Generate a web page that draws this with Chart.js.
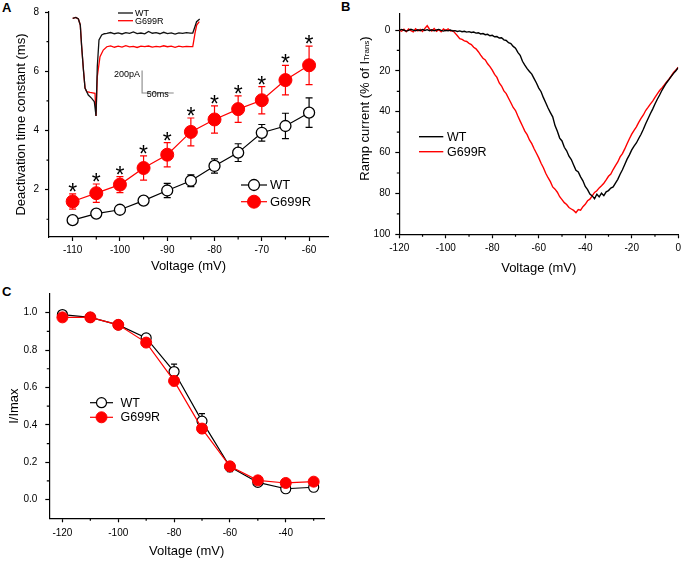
<!DOCTYPE html>
<html>
<head>
<meta charset="utf-8">
<script src="https://cdn.jsdelivr.net/npm/chart.js@4.4.0/dist/chart.umd.min.js"></script>
<style>
  body { margin: 0; background: #fff; width: 685px; height: 563px; position: relative; overflow: hidden; font-family: "Liberation Sans", Arial, sans-serif; }
  canvas { position: absolute; }
  .panel { position: absolute; font-weight: bold; font-size: 13px; line-height: 13px; }
</style>
</head>
<body>
<div class="panel" style="left:2px;top:1px">A</div>
<div class="panel" style="left:341px;top:0px">B</div>
<div class="panel" style="left:2px;top:285px">C</div>
<canvas id="chartA" width="340" height="280" style="left:0;top:0"></canvas>
<canvas id="inset" width="160" height="120" style="left:60px;top:0"></canvas>
<canvas id="chartB" width="345" height="280" style="left:340px;top:0"></canvas>
<canvas id="chartC" width="340" height="283" style="left:0;top:280px"></canvas>
<script>
// ---- Panel A: deactivation time constant ----
const voltA = [-110, -105, -100, -95, -90, -85, -80, -75, -70, -65, -60];
const tauWT = [0.97, 1.19, 1.32, 1.63, 1.97, 2.30, 2.80, 3.25, 3.92, 4.15, 4.60];
const tauWTErr = [0.06, 0.07, 0.12, 0.08, 0.24, 0.20, 0.24, 0.30, 0.28, 0.43, 0.50];
const tauMut = [1.60, 1.88, 2.17, 2.73, 3.18, 3.95, 4.37, 4.72, 5.02, 5.70, 6.20];
const tauMutErr = [0.26, 0.31, 0.27, 0.41, 0.41, 0.47, 0.46, 0.45, 0.46, 0.50, 0.65];

// inset current traces (ms, pA)
const traceWTTime = [0, 5, 9, 12, 14, 17, 19.5, 24.7, 30.1, 34.2, 36.9, 38.9, 41.6, 45.9, 50, 54, 60, 66, 72, 78, 84, 90, 96, 102, 108, 114, 120, 126, 132, 138, 144, 150, 156, 162, 168, 174, 180, 186, 190, 193, 196, 201];
const traceWTCur = [0, 8, -7, -65, -259, -502, -678, -745, -777, -810, -949, -470, -211, -162, -150, -146, -138, -150, -141, -152, -139, -147, -133, -149, -143, -151, -127, -145, -140, -150, -136, -148, -142, -153, -141, -146, -139, -144, -143, -90, -33, -7];
const traceMutTime = [0, 5, 9, 12, 14, 17, 19.5, 22.2, 27.4, 35.3, 36.9, 38.9, 43.2, 48.4, 54, 60, 66, 72, 78, 84, 90, 96, 102, 108, 114, 120, 126, 132, 138, 144, 150, 156, 162, 168, 174, 180, 186, 190, 193.5, 196.2, 200.3];
const traceMutCur = [0, 8, -7, -65, -259, -502, -678, -713, -720, -728, -949, -567, -373, -308, -276, -268, -281, -271, -279, -266, -277, -272, -283, -270, -275, -269, -280, -273, -278, -267, -276, -271, -282, -270, -277, -273, -275, -274, -146, -65, -33];
const scaleBarTime = [109.8, 109.8, 159.8];
const scaleBarCur = [-508, -725, -725];

// ---- Panel B: ramp current, 1 mV steps ----
const rampVolt = [-120, -119, -118, -117, -116, -115, -114, -113, -112, -111, -110, -109, -108, -107, -106, -105, -104, -103, -102, -101,
  -100, -99, -98, -97, -96, -95, -94, -93, -92, -91, -90, -89, -88, -87, -86, -85, -84, -83, -82, -81,
  -80, -79, -78, -77, -76, -75, -74, -73, -72, -71, -70, -69, -68, -67, -66, -65, -64, -63, -62, -61,
  -60, -59, -58, -57, -56, -55, -54, -53, -52, -51, -50, -49, -48, -47, -46, -45, -44, -43, -42, -41,
  -40, -39, -38, -37, -36, -35, -34, -33, -32, -31, -30, -29, -28, -27, -26, -25, -24, -23, -22, -21,
  -20, -19, -18, -17, -16, -15, -14, -13, -12, -11, -10, -9, -8, -7, -6, -5, -4, -3, -2, -1, 0];
const rampWT = [0.2, -0.3, 0.1, 0.5, 0.2, -0.4, 0.0, 0.4, -0.1, 0.3, -0.3, 0.2, -0.2, 0.3, -0.1, 0.4, 0.0, -0.3, 0.2, 0.5,
  0.1, 0.4, 0.0, 0.5, 0.3, 0.7, 0.4, 0.8, 0.6, 1.0, 0.8, 1.2, 1.0, 1.5, 1.3, 1.9, 1.7, 2.3, 2.1, 2.8,
  2.6, 3.3, 3.2, 3.9, 3.8, 4.8, 5.1, 6.2, 6.6, 8.0, 8.9, 10.9, 12.4, 15.3, 17.2, 18.9, 20.3, 21.6, 23.8, 25.9,
  28.4, 30.2, 33.1, 35.6, 38.2, 40.4, 42.5, 46.8, 49.6, 52.9, 54.3, 57.4, 59.1, 61.8, 63.4, 66.1, 68.7, 69.5, 71.9, 73.8,
  76.6, 78.1, 80.3, 81.2, 82.6, 80.4, 81.7, 79.9, 81.1, 79.2, 78.6, 77.4, 76.8, 74.9, 73.1, 70.6, 68.4, 65.8, 63.2, 61.1,
  58.7, 56.8, 55.3, 53.1, 51.0, 48.6, 45.9, 43.4, 41.0, 38.7, 36.2, 33.9, 31.8, 29.5, 27.6, 25.8, 24.3, 22.7, 21.2, 19.9, 18.4];
const rampMut = [0.0, 0.6, -0.4, 0.8, -0.5, 0.3, 0.9, -0.6, 0.4, -0.3, 0.7, -0.8, -2.1, -0.4, 0.5, -0.7, 0.6, -0.2, 0.8, -0.5,
  0.3, -0.6, 0.5, 0.2, 1.5, 2.8, 4.2, 4.6, 5.3, 5.6, 6.5, 7.1, 8.4, 9.2, 10.6, 12.3, 13.8, 14.6, 16.5, 17.9,
  19.6, 21.7, 23.2, 25.9, 27.4, 29.8, 31.1, 33.4, 35.6, 37.9, 39.4, 42.1, 44.6, 47.0, 49.5, 51.2, 53.8, 55.6, 58.1, 60.3,
  62.6, 65.2, 67.4, 70.1, 72.3, 74.2, 76.8, 77.9, 79.4, 81.6, 83.0, 84.5, 85.4, 86.9, 87.6, 88.3, 89.4, 87.9, 88.2, 86.5,
  85.3, 83.6, 82.8, 81.2, 79.5, 78.7, 77.3, 76.2, 75.0, 73.4, 71.6, 70.5, 68.3, 66.4, 64.6, 62.1, 60.5, 58.2, 55.7, 53.2,
  51.0, 49.1, 47.4, 45.2, 43.3, 41.6, 39.4, 37.9, 36.3, 34.8, 33.0, 31.2, 29.6, 28.3, 26.9, 25.4, 24.1, 22.5, 20.8, 19.6, 18.2];

// ---- Panel C: steady-state availability ----
const voltC = [-120, -110, -100, -90, -80, -70, -60, -50, -40, -30];
const availWT = [0.99, 0.975, 0.935, 0.865, 0.685, 0.42, 0.175, 0.092, 0.058, 0.066];
const availWTErr = [0.015, 0.01, 0.01, 0.015, 0.04, 0.04, 0.025, 0.01, 0.01, 0.01];
const availMut = [0.975, 0.975, 0.935, 0.84, 0.635, 0.38, 0.178, 0.103, 0.089, 0.096];
const availMutErr = [0.01, 0.01, 0.01, 0.015, 0.025, 0.025, 0.02, 0.01, 0.01, 0.01];

// tick values
const ticksAX = [-110, -100, -90, -80, -70, -60];
const minorAX = [-105, -95, -85, -75, -65];
const ticksAY = [2, 4, 6, 8];
const minorAY = [1, 3, 5, 7];
const ticksBX = [-120, -100, -80, -60, -40, -20, 0];
const minorBX = [-110, -90, -70, -50, -30, -10];
const ticksBY = [0, 20, 40, 60, 80, 100];
const minorBY = [10, 30, 50, 70, 90];
const ticksCX = [-120, -100, -80, -60, -40];
const minorCX = [-110, -90, -70, -50, -30];
const ticksCY = [0, 0.2, 0.4, 0.6, 0.8, 1.0];
const minorCY = [0.1, 0.3, 0.5, 0.7, 0.9];

const FONT = '"Liberation Sans", Arial, Helvetica, sans-serif';
Chart.defaults.font.family = FONT;
Chart.defaults.color = '#000';
const RED = '#ff0000';
const BLACK = '#000000';

const pts = (xs, ys) => xs.map((x, i) => ({x: x, y: ys[i]}));

function axis(o) {
  return {
    type: 'linear',
    min: o.min,
    max: o.max,
    reverse: !!o.reverse,
    border: {color: '#000', width: 1.2},
    grid: {drawOnChartArea: false, color: '#000', tickLength: 4, tickWidth: 1.2},
    ticks: {font: {size: 10}, color: '#000', padding: o.pad, callback: o.fmt || (v => v)},
    afterBuildTicks: s => { s.ticks = o.ticks.map(v => ({value: v})); },
    afterFit: s => { if (s.isHorizontal()) s.height = o.size; else s.width = o.size; },
    title: {display: !!o.title, text: o.title, font: {size: 13}, color: '#000', padding: o.tpad || 0}
  };
}

// small unlabeled ticks between the labelled ones
function minorTicks(xs, ys) {
  return {
    id: 'minorTicks',
    afterDraw(chart) {
      const {ctx, chartArea} = chart;
      const {x, y} = chart.scales;
      ctx.save();
      ctx.strokeStyle = '#000';
      ctx.lineWidth = 1.2;
      ctx.beginPath();
      xs.forEach(v => {
        const px = x.getPixelForValue(v);
        ctx.moveTo(px, chartArea.bottom);
        ctx.lineTo(px, chartArea.bottom + 2.5);
      });
      ys.forEach(v => {
        const py = y.getPixelForValue(v);
        ctx.moveTo(chartArea.left - 2.5, py);
        ctx.lineTo(chartArea.left, py);
      });
      ctx.stroke();
      ctx.restore();
    }
  };
}

// symmetric error bars, drawn under the markers
function errorBars(cap) {
  return {
    id: 'errorBars',
    beforeDatasetsDraw(chart) {
      const ctx = chart.ctx;
      const {x, y} = chart.scales;
      chart.data.datasets.forEach(ds => {
        if (!ds.errors) return;
        ctx.save();
        ctx.strokeStyle = ds.borderColor;
        ctx.lineWidth = 1.2;
        ctx.beginPath();
        ds.data.forEach((p, i) => {
          const e = ds.errors[i];
          const px = x.getPixelForValue(p.x);
          const top = y.getPixelForValue(p.y + e);
          const bot = y.getPixelForValue(p.y - e);
          ctx.moveTo(px, top); ctx.lineTo(px, bot);
          ctx.moveTo(px - cap, top); ctx.lineTo(px + cap, top);
          ctx.moveTo(px - cap, bot); ctx.lineTo(px + cap, bot);
        });
        ctx.stroke();
        ctx.restore();
      });
    }
  };
}

// significance stars over the mutant error bars
const stars = {
  id: 'stars',
  afterDatasetsDraw(chart) {
    const ctx = chart.ctx;
    const {x, y} = chart.scales;
    chart.data.datasets.forEach(ds => {
      if (!ds.stars) return;
      ctx.save();
      ctx.fillStyle = '#000';
      ctx.font = '23px ' + FONT;
      ctx.textAlign = 'center';
      ctx.textBaseline = 'alphabetic';
      ds.data.forEach((p, i) => {
        const px = x.getPixelForValue(p.x);
        const top = y.getPixelForValue(p.y + ds.errors[i]);
        ctx.fillText('*', px, top + 6);
      });
      ctx.restore();
    });
  }
};

// hand placed legend, style taken from the datasets
function figLegend(items, size) {
  return {
    id: 'figLegend',
    afterDraw(chart) {
      const ctx = chart.ctx;
      items.forEach(it => {
        const ds = chart.data.datasets[it.ds];
        ctx.save();
        ctx.strokeStyle = ds.borderColor;
        ctx.lineWidth = ds.borderWidth;
        ctx.beginPath();
        ctx.moveTo(it.x1, it.y);
        ctx.lineTo(it.x2, it.y);
        ctx.stroke();
        if (ds.pointRadius > 0) {
          ctx.fillStyle = ds.pointBackgroundColor;
          ctx.strokeStyle = ds.pointBorderColor;
          ctx.lineWidth = ds.pointBorderWidth;
          Chart.helpers.drawPoint(ctx, {pointStyle: 'circle', radius: ds.pointRadius, borderWidth: ds.pointBorderWidth, rotation: 0}, (it.x1 + it.x2) / 2, it.y);
        }
        ctx.fillStyle = '#000';
        ctx.font = size + 'px ' + FONT;
        ctx.textBaseline = 'middle';
        ctx.textAlign = 'left';
        ctx.fillText(ds.label, it.tx, it.y + 0.5);
        ctx.restore();
      });
    }
  };
}

function figText(items, size) {
  return {
    id: 'figText',
    afterDraw(chart) {
      const ctx = chart.ctx;
      ctx.save();
      ctx.fillStyle = '#000';
      ctx.font = size + 'px ' + FONT;
      ctx.textBaseline = 'middle';
      items.forEach(it => {
        ctx.textAlign = it.align || 'left';
        ctx.fillText(it.text, it.x, it.y);
      });
      ctx.restore();
    }
  };
}

// y title of panel B, with subscript
const rampTitle = {
  id: 'rampTitle',
  afterDraw(chart) {
    const ctx = chart.ctx;
    const main = '13px ' + FONT, sub = '8px ' + FONT;
    const parts = [['Ramp current (% of I', main, 0], ['Trans', sub, 2], [')', main, 0]];
    let w = 0;
    parts.forEach(p => { ctx.font = p[1]; w += ctx.measureText(p[0]).width; });
    ctx.save();
    ctx.translate(25, 108.5);
    ctx.rotate(-Math.PI / 2);
    ctx.fillStyle = '#000';
    ctx.textBaseline = 'middle';
    ctx.textAlign = 'left';
    let cx = -w / 2;
    parts.forEach(p => {
      ctx.font = p[1];
      ctx.fillText(p[0], cx, p[2]);
      cx += ctx.measureText(p[0]).width;
    });
    ctx.restore();
  }
};

// Panel A
new Chart(document.getElementById('chartA'), {
  type: 'line',
  data: {
    datasets: [
      {
        label: 'WT',
        data: pts(voltA, tauWT),
        errors: tauWTErr,
        borderColor: BLACK,
        borderWidth: 1.2,
        pointRadius: 5.5,
        pointBackgroundColor: '#fff',
        pointBorderColor: BLACK,
        pointBorderWidth: 1.3,
        tension: 0
      },
      {
        label: 'G699R',
        data: pts(voltA, tauMut),
        errors: tauMutErr,
        stars: true,
        borderColor: RED,
        borderWidth: 1.2,
        pointRadius: 6.5,
        pointBackgroundColor: RED,
        pointBorderColor: RED,
        pointBorderWidth: 1,
        tension: 0
      }
    ]
  },
  options: {
    responsive: false,
    animation: false,
    events: [],
    layout: {padding: {left: 0, top: 9, right: 12, bottom: 0}},
    scales: {
      x: axis({min: -115, max: -56, ticks: ticksAX, size: 43, pad: 3, title: 'Voltage (mV)', tpad: {top: 0, bottom: 6}}),
      y: axis({min: 0.4, max: 8, ticks: ticksAY, size: 49, pad: 6, title: 'Deactivation time constant (ms)', tpad: {top: 14, bottom: 0}})
    },
    plugins: {legend: {display: false}, tooltip: {enabled: false}}
  },
  plugins: [errorBars(3.5), stars, minorTicks(minorAX, minorAY), figLegend([
    {ds: 0, x1: 241, x2: 267, y: 185, tx: 270},
    {ds: 1, x1: 241, x2: 267, y: 201.7, tx: 270}
  ], 13)]
});

// Inset traces
new Chart(document.getElementById('inset'), {
  type: 'line',
  data: {
    datasets: [
      {label: 'WT', data: pts(traceWTTime, traceWTCur), borderColor: '#111', borderWidth: 1.3, pointRadius: 0, tension: 0},
      {label: 'G699R', data: pts(traceMutTime, traceMutCur), borderColor: RED, borderWidth: 1.3, pointRadius: 0, tension: 0},
      {label: 'scale', data: pts(scaleBarTime, scaleBarCur), borderColor: '#888', borderWidth: 1.1, pointRadius: 0, tension: 0}
    ]
  },
  options: {
    responsive: false,
    animation: false,
    events: [],
    layout: {padding: 0},
    scales: {
      x: {type: 'linear', display: false, min: -20.1, max: 233.1},
      y: {type: 'linear', display: false, min: -987.5, max: 177.7}
    },
    plugins: {legend: {display: false}, tooltip: {enabled: false}}
  },
  plugins: [figLegend([
    {ds: 0, x1: 58, x2: 73, y: 13, tx: 75},
    {ds: 1, x1: 58, x2: 73, y: 20.7, tx: 75}
  ], 9), figText([
    {text: '200pA', x: 80, y: 74.3, align: 'right'},
    {text: '50ms', x: 86.7, y: 94.3, align: 'left'}
  ], 9)]
});

// Panel B
new Chart(document.getElementById('chartB'), {
  type: 'line',
  data: {
    datasets: [
      {label: 'WT', data: pts(rampVolt, rampWT), borderColor: BLACK, borderWidth: 1.4, pointRadius: 0, tension: 0},
      {label: 'G699R', data: pts(rampVolt, rampMut), borderColor: RED, borderWidth: 1.4, pointRadius: 0, tension: 0}
    ]
  },
  options: {
    responsive: false,
    animation: false,
    events: [],
    layout: {padding: {left: 0, top: 13.7, right: 5, bottom: 0}},
    scales: {
      x: axis({min: -120, max: 0, ticks: ticksBX, size: 45.7, pad: 4, title: 'Voltage (mV)', tpad: {top: 0, bottom: 4}}),
      y: axis({min: -8, max: 100, reverse: true, ticks: ticksBY, size: 59.3, pad: 5})
    },
    plugins: {legend: {display: false}, tooltip: {enabled: false}}
  },
  plugins: [minorTicks(minorBX, minorBY), rampTitle, figLegend([
    {ds: 0, x1: 79, x2: 103.3, y: 136.7, tx: 107},
    {ds: 1, x1: 79, x2: 103.3, y: 151.7, tx: 107}
  ], 12.5)]
});

// Panel C
new Chart(document.getElementById('chartC'), {
  type: 'line',
  data: {
    datasets: [
      {
        label: 'WT',
        data: pts(voltC, availWT),
        errors: availWTErr,
        borderColor: BLACK,
        borderWidth: 1.2,
        pointRadius: 5,
        pointBackgroundColor: '#fff',
        pointBorderColor: BLACK,
        pointBorderWidth: 1.2,
        tension: 0,
        order: 2
      },
      {
        label: 'G699R',
        data: pts(voltC, availMut),
        errors: availMutErr,
        borderColor: RED,
        borderWidth: 1.2,
        pointRadius: 5.5,
        pointBackgroundColor: RED,
        pointBorderColor: RED,
        pointBorderWidth: 1,
        tension: 0,
        order: 1
      }
    ]
  },
  options: {
    responsive: false,
    animation: false,
    events: [],
    layout: {padding: {left: 0, top: 13.3, right: 16, bottom: 0}},
    scales: {
      x: axis({min: -124.7, max: -26.3, ticks: ticksCX, size: 44.7, pad: 5, title: 'Voltage (mV)', tpad: {top: 0, bottom: 3.5}}),
      y: axis({min: -0.1, max: 1.1, ticks: ticksCY, size: 49.3, pad: 8, fmt: v => v.toFixed(1), title: 'I/Imax', tpad: {top: 7, bottom: 0}})
    },
    plugins: {legend: {display: false}, tooltip: {enabled: false}}
  },
  plugins: [errorBars(3), minorTicks(minorCX, minorCY), figLegend([
    {ds: 0, x1: 90, x2: 113, y: 122.7, tx: 120.5},
    {ds: 1, x1: 90, x2: 113, y: 137.3, tx: 120.5}
  ], 12.5)]
});
</script>
</body>
</html>
